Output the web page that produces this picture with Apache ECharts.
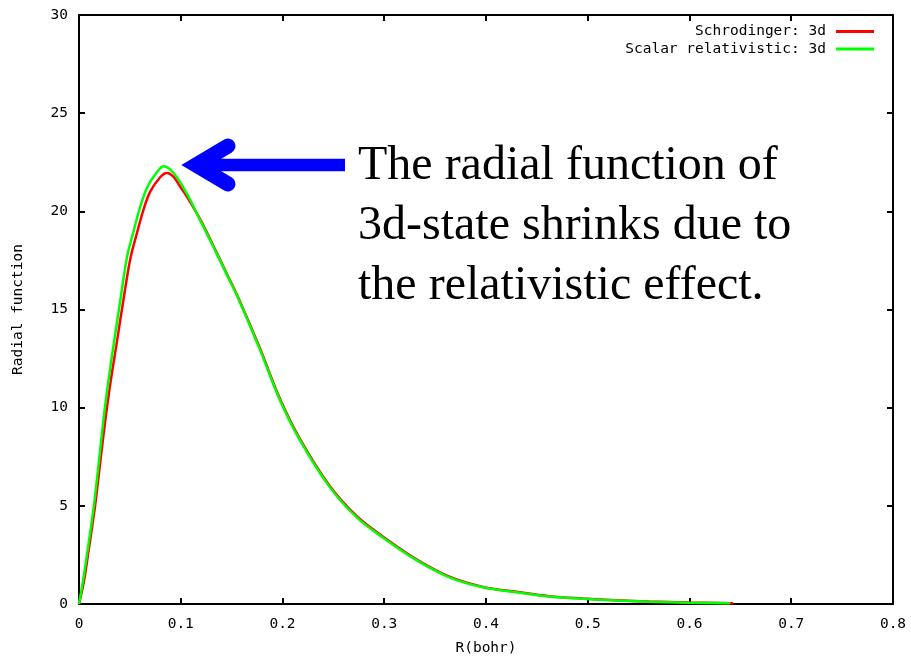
<!DOCTYPE html>
<html>
<head>
<meta charset="utf-8">
<script src="https://cdn.jsdelivr.net/npm/echarts@6/dist/echarts.min.js"></script>
<style>html,body{margin:0;padding:0;background:#fff;}#c{width:911px;height:663px;}</style>
</head>
<body>
<div id="c"></div>
<script>
// Schrodinger: 3d (red)
var schX = [0, 0.005, 0.009, 0.0157, 0.0208, 0.0262, 0.0313, 0.0368, 0.0437, 0.0505, 0.057, 0.0635, 0.070, 0.080, 0.0865, 0.093, 0.0995, 0.106, 0.119, 0.132, 0.145, 0.157, 0.178, 0.1975, 0.2172, 0.2466, 0.273, 0.2985, 0.332, 0.364, 0.397, 0.43, 0.462, 0.495, 0.528, 0.56, 0.60, 0.643];
var schY = [0, 1.2, 2.57, 4.96, 7.19, 9.5, 11.4, 13.2, 15.5, 17.6, 18.9, 20.1, 21.0, 21.75, 21.95, 21.75, 21.25, 20.75, 19.6, 18.25, 16.85, 15.55, 13.0, 10.45, 8.4, 6.0, 4.47, 3.44, 2.26, 1.39, 0.87, 0.62, 0.4, 0.28, 0.19, 0.13, 0.08, 0.04];
// Scalar relativistic: 3d (green)
var relX = [0, 0.004, 0.008, 0.0145, 0.0194, 0.0243, 0.029, 0.034, 0.0407, 0.0473, 0.0537, 0.060, 0.0669, 0.0767, 0.0831, 0.093, 0.106, 0.119, 0.132, 0.145, 0.157, 0.178, 0.1975, 0.2172, 0.2466, 0.273, 0.2985, 0.332, 0.364, 0.397, 0.43, 0.462, 0.495, 0.528, 0.56, 0.60, 0.64];
var relY = [0, 1.2, 2.57, 4.96, 7.19, 9.5, 11.4, 13.2, 15.5, 17.7, 19.0, 20.2, 21.2, 22.0, 22.3, 21.95, 20.9, 19.55, 18.2, 16.8, 15.5, 12.93, 10.38, 8.34, 5.94, 4.41, 3.39, 2.22, 1.36, 0.85, 0.6, 0.38, 0.27, 0.18, 0.12, 0.07, 0.04];
var seriesNames = ['Schrodinger: 3d', 'Scalar relativistic: 3d'];
var annotationLines = ['The radial function of', '3d-state shrinks due to', 'the relativistic effect.'];

function pairs(xs, ys){ return xs.map(function(x,i){ return [x, ys[i]]; }); }

var mono = '"DejaVu Sans Mono", "Liberation Mono", monospace';
var axisCommon = {
  type: 'value',
  axisLine: {show: true, onZero: false, lineStyle: {color: '#000', width: 2}},
  axisTick: {show: true, inside: true, length: 6, lineStyle: {color: '#000', width: 2}},
  splitLine: {show: false}
};

var chart = echarts.init(document.getElementById('c'), null, {renderer: 'canvas'});
var textGraphics = annotationLines.map(function(t, i){
  return {type: 'text', left: 358, top: 142 + i * 60, z: 10,
    style: {text: t, font: '48px "Liberation Serif", "Times New Roman", serif', fill: '#000'}};
});
chart.setOption({
  animation: false,
  backgroundColor: '#fff',
  grid: {left: 79, right: 18, top: 15, bottom: 59, containLabel: false},
  legend: {
    data: seriesNames,
    orient: 'vertical',
    right: 32, top: 19,
    align: 'right',
    icon: 'rect',
    itemWidth: 38, itemHeight: 3,
    itemGap: 2.5,
    textStyle: {fontFamily: mono, fontSize: 14.5, color: '#000', lineHeight: 14, padding: [0, 5, 0, 0]}
  },
  xAxis: [
    Object.assign({}, axisCommon, {min: 0, max: 0.8, interval: 0.1, position: 'bottom',
      name: 'R(bohr)', nameLocation: 'middle', nameGap: 37,
      nameTextStyle: {fontFamily: mono, fontSize: 14.5, color: '#000'},
      axisLabel: {fontFamily: mono, fontSize: 14.5, color: '#000', margin: 13}}),
    Object.assign({}, axisCommon, {min: 0, max: 0.8, interval: 0.1, position: 'top', axisLabel: {show: false}})
  ],
  yAxis: [
    Object.assign({}, axisCommon, {min: 0, max: 30, interval: 5, position: 'left',
      name: 'Radial function', nameLocation: 'middle', nameGap: 53,
      nameTextStyle: {fontFamily: mono, fontSize: 14.5, color: '#000'},
      axisLabel: {fontFamily: mono, fontSize: 14.5, color: '#000', margin: 11}}),
    Object.assign({}, axisCommon, {min: 0, max: 30, interval: 5, position: 'right', axisLabel: {show: false}})
  ],
  series: [
    {name: seriesNames[0], type: 'line', data: pairs(schX, schY), symbol: 'none', smooth: 0.35,
     lineStyle: {color: '#ff0000', width: 2.5}, itemStyle: {color: '#ff0000'}},
    {name: seriesNames[1], type: 'line', data: pairs(relX, relY), symbol: 'none', smooth: 0.35,
     lineStyle: {color: '#00ff00', width: 2.5}, itemStyle: {color: '#00ff00'}}
  ],
  graphic: textGraphics.concat([
    {type: 'line', z: 10, shape: {x1: 200, y1: 165, x2: 345, y2: 165}, style: {stroke: '#0000ff', lineWidth: 12.5, lineCap: 'butt'}},
    {type: 'polyline', z: 10, shape: {points: [[228, 146], [196, 165], [228, 184]]}, style: {stroke: '#0000ff', lineWidth: 15, lineCap: 'round', lineJoin: 'miter', miterLimit: 10, fill: null}}
  ])
});
</script>
</body>
</html>
